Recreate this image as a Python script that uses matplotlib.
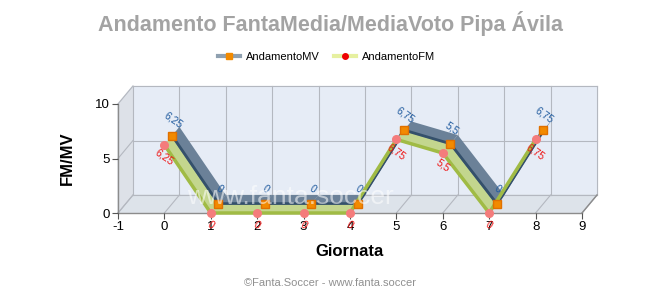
import matplotlib.pyplot as plt
import numpy as np
from matplotlib.lines import Line2D

plt.rcParams['font.family'] = ['Liberation Sans', 'DejaVu Sans']
plt.rcParams['axes.unicode_minus'] = False

# data
giornate = [0, 1, 2, 3, 4, 5, 6, 7, 8]
media_voto = [6.25, 0, 0, 0, 0, 6.75, 5.5, 0, 6.75]
fanta_media = [6.25, 0, 0, 0, 0, 6.75, 5.5, 0, 6.75]
mv_labels = ["6,25", "0", "0", "0", "0", "6,75", "5,5", "0", "6,75"]
fm_labels = ["6,25", "0", "0", "0", "0", "6,75", "5,5", "0", "6,75"]
x_ticks = [-1, 0, 1, 2, 3, 4, 5, 6, 7, 8, 9]
y_ticks = [0, 5, 10]

fig = plt.figure(figsize=(6.6, 3), dpi=100)
fig.patch.set_facecolor("white")
ax = fig.add_axes([118 / 660, 87 / 300, 464 / 660, 109 / 300])
ax.set_xlim(-1, 9)
ax.set_ylim(0, 10)
ax.patch.set_alpha(0)
for s in ax.spines.values():
    s.set_visible(False)

# pseudo 3d depth (15px right, 18px up) in data units
DX = 15 * 10 / 464
DY = 18 * 10 / 109


def dep(f):
    return f * DX, f * DY


x0, x1, y0, y1 = -1, 9, 0, 10
bx, by = dep(1)
# back wall
ax.fill([x0 + bx, x1 + bx, x1 + bx, x0 + bx], [y0 + by, y0 + by, y1 + by, y1 + by],
        color="#e6ecf6", zorder=0, clip_on=False)
# left wall
ax.fill([x0, x0 + bx, x0 + bx, x0], [y0, y0 + by, y1 + by, y1],
        color="#dde1e8", zorder=0, clip_on=False)
# floor
ax.fill([x0, x1, x1 + bx, x0 + bx], [y0, y0, y0 + by, y0 + by],
        color="#dde3ea", zorder=0, clip_on=False)

gc = "#b4b8c0"
for xt in x_ticks:
    ax.plot([xt + bx, xt + bx], [y0 + by, y1 + by], color=gc, lw=0.8, zorder=1, clip_on=False)
    ax.plot([xt, xt + bx], [y0, y0 + by], color=gc, lw=0.8, zorder=1, clip_on=False)
for yt in y_ticks:
    ax.plot([x0 + bx, x1 + bx], [yt + by, yt + by], color=gc, lw=0.8, zorder=1, clip_on=False)
    ax.plot([x0, x0 + bx], [yt, yt + by], color=gc, lw=0.8, zorder=1, clip_on=False)
ec = "#8c8c8c"
ax.plot([x0, x1], [y0, y0], color=ec, lw=1, zorder=1, clip_on=False)
ax.plot([x0, x0], [y0, y1], color=ec, lw=1, zorder=1, clip_on=False)
ax.plot([x1, x1 + bx], [y0, y0 + by], color=ec, lw=1, zorder=1, clip_on=False)


def ribbon(xs, ys, d1, d2, face, edge, z):
    ax1, ay1 = dep(d1)
    ax2, ay2 = dep(d2)
    for i in range(len(xs) - 1):
        px = [xs[i] + ax1, xs[i + 1] + ax1, xs[i + 1] + ax2, xs[i] + ax2]
        py = [ys[i] + ay1, ys[i + 1] + ay1, ys[i + 1] + ay2, ys[i] + ay2]
        ax.fill(px, py, color=face, zorder=z, clip_on=False, lw=0)
    ax.plot(np.array(xs) + ax1, np.array(ys) + ay1, color=edge, lw=2.5, zorder=z + 0.1,
            clip_on=False, solid_joinstyle="miter")


# MediaVoto ribbon (back)
ribbon(giornate, media_voto, 0.5, 1.0, "#6b8198", "#34506b", 3)
mx, my = dep(0.5)
ax.plot(np.array(giornate) + mx, np.array(media_voto) + my, ls="none", marker="s", ms=6,
        mfc="#f28a00", mec="#e07000", zorder=6, clip_on=False)

# FantaMedia ribbon (front)
ribbon(giornate, fanta_media, 0.0, 0.45, "#c3d68e", "#a0bb45", 4)
ax.plot(giornate, fanta_media, ls="none", marker="o", ms=5.5,
        mfc="#f47c7c", mec="#f47c7c", zorder=6, clip_on=False)

for g, v, t in zip(giornate, media_voto, mv_labels):
    ax.annotate(t, (g + mx, v + my), xytext=(1, 11), textcoords="offset points",
                ha="center", va="center", rotation=-35, fontsize=7.5, color="#1f5a9e",
                zorder=7, annotation_clip=False)
for g, v, t in zip(giornate, fanta_media, fm_labels):
    ax.annotate(t, (g, v), xytext=(0, -9), textcoords="offset points",
                ha="center", va="center", rotation=-35, fontsize=7.5, color="#ee1111",
                zorder=7, annotation_clip=False)

ax.set_xticks(x_ticks)
ax.set_yticks(y_ticks)
ax.set_xticklabels([str(t) for t in x_ticks])
ax.tick_params(axis="both", labelsize=9.5, color="#555555", length=4, width=0.8, pad=2)
ax.set_xlabel("Giornata", fontsize=12, fontweight="bold", labelpad=8)
ax.set_ylabel("FM/MV", fontsize=12, fontweight="bold", labelpad=14)

# watermark
fig.text(0.44, 0.345, "www.fanta.soccer", fontsize=19, color="white", alpha=0.55,
         ha="center", va="center", zorder=10)

fig.suptitle("Andamento FantaMedia/MediaVoto Pipa Ávila", y=0.965, fontsize=15.5,
             fontweight="bold", color="#a3a3a3")

# legend
h1 = Line2D([], [], color="#8fa0b0", lw=3, marker="s", ms=5, mfc="#f28a00", mec="#f28a00")
h2 = Line2D([], [], color="#e6f0a0", lw=3, marker="o", ms=4, mfc="#ee0000", mec="#ee0000")
fig.legend([h1, h2], ["AndamentoMV", "AndamentoFM"], loc="center", bbox_to_anchor=(0.495, 0.81),
           ncol=2, frameon=False, fontsize=8, handlelength=2.0, handletextpad=0.5,
           columnspacing=1.3)

fig.text(0.5, 0.055, "©Fanta.Soccer - www.fanta.soccer", ha="center", va="center",
         fontsize=8, color="#909090")

plt.savefig("out.png", dpi=100)
